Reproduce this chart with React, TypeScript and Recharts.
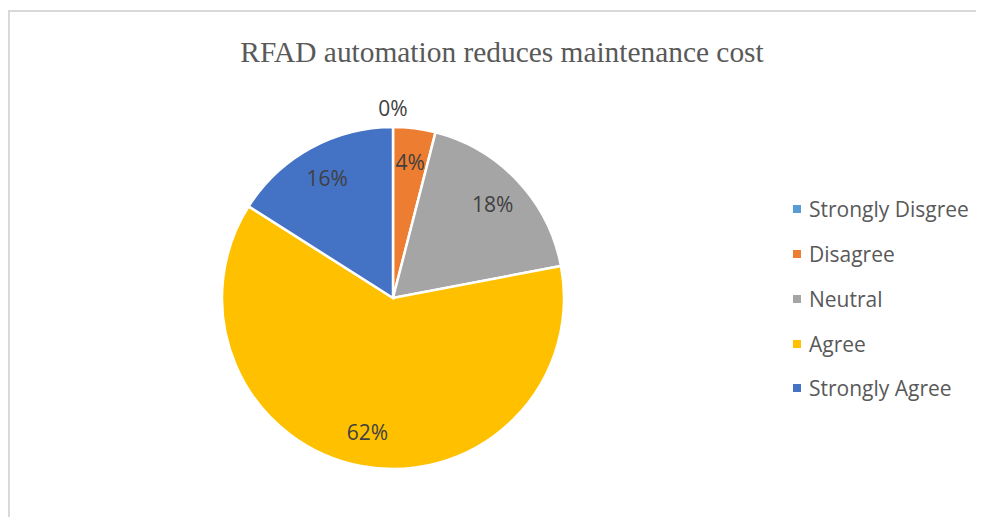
import { PieChart, Pie, Cell, Legend } from "recharts";

const categories = ["Strongly Disgree", "Disagree", "Neutral", "Agree", "Strongly Agree"];
const shares = [0, 4, 18, 62, 16];

// Office 標準パレット
const COLORS = ["#5B9BD5", "#ED7D31", "#A5A5A5", "#FFC000", "#4472C4"];

const data = categories.map((name, i) => ({ name, value: shares[i] }));

const RAD = Math.PI / 180;
const LABEL_FONT = "'Open Sans', 'Noto Sans', sans-serif";

function renderLabel(props: any) {
    const { cx, cy, midAngle, outerRadius, value } = props;
    // 0% のラベルは円の外側に出す
    const r = value === 0 ? outerRadius + 19 : outerRadius * 0.8;
    const x = cx + r * Math.cos(-midAngle * RAD);
    const y = cy + r * Math.sin(-midAngle * RAD);
    return (
        <text
            x={x}
            y={y}
            fill="#404040"
            textAnchor="middle"
            dominantBaseline="central"
            style={{ fontFamily: LABEL_FONT, fontSize: 21 }}
        >
            {`${value}%`}
        </text>
    );
}

function CustomLegend() {
    return (
        <div style={{ fontFamily: LABEL_FONT, fontSize: 21, color: "#595959" }}>
            {data.map((entry, index) => (
                <div
                    key={entry.name}
                    style={{ display: "flex", alignItems: "center", height: 44.75 }}
                >
                    <span
                        style={{
                            width: 8,
                            height: 8,
                            backgroundColor: COLORS[index],
                            marginRight: 8,
                            flexShrink: 0,
                        }}
                    />
                    <span style={{ whiteSpace: "nowrap" }}>{entry.name}</span>
                </div>
            ))}
        </div>
    );
}

export default function App() {
    return (
        <div
            style={{
                position: "relative",
                width: 976,
                height: 517,
                marginBottom: -8,
                overflow: "hidden",
            }}
        >
            {/* 外枠 — 上と左だけ見える */}
            <div
                style={{
                    position: "absolute",
                    left: 0,
                    top: 2,
                    width: 976,
                    height: 515,
                    borderTop: "2px solid #D9D9D9",
                    borderLeft: "2px solid #D9D9D9",
                    boxSizing: "border-box",
                }}
            />
            <div
                style={{
                    position: "absolute",
                    left: 0,
                    top: 28,
                    width: 988,
                    textAlign: "center",
                    fontFamily: "'Liberation Serif', 'Times New Roman', serif",
                    fontSize: 29.4,
                    color: "#595959",
                    lineHeight: "32px",
                    whiteSpace: "nowrap",
                }}
            >
                RFAD automation reduces maintenance cost
            </div>
            <PieChart
                width={976}
                height={517}
                margin={{ top: 0, right: 0, bottom: 0, left: 0 }}
                style={{ position: "absolute", left: 0, top: 0 }}
            >
                <Pie
                    data={data}
                    cx={385}
                    cy={290}
                    outerRadius={171}
                    startAngle={90}
                    endAngle={-270}
                    dataKey="value"
                    stroke="#fff"
                    strokeWidth={2.5}
                    label={renderLabel}
                    labelLine={false}
                    isAnimationActive={false}
                >
                    {data.map((_, index) => (
                        <Cell key={`cell-${index}`} fill={COLORS[index]} />
                    ))}
                </Pie>
                <Legend
                    layout="vertical"
                    content={<CustomLegend />}
                    wrapperStyle={{ position: "absolute", left: 785, top: 179, width: 190 }}
                />
            </PieChart>
        </div>
    );
}
